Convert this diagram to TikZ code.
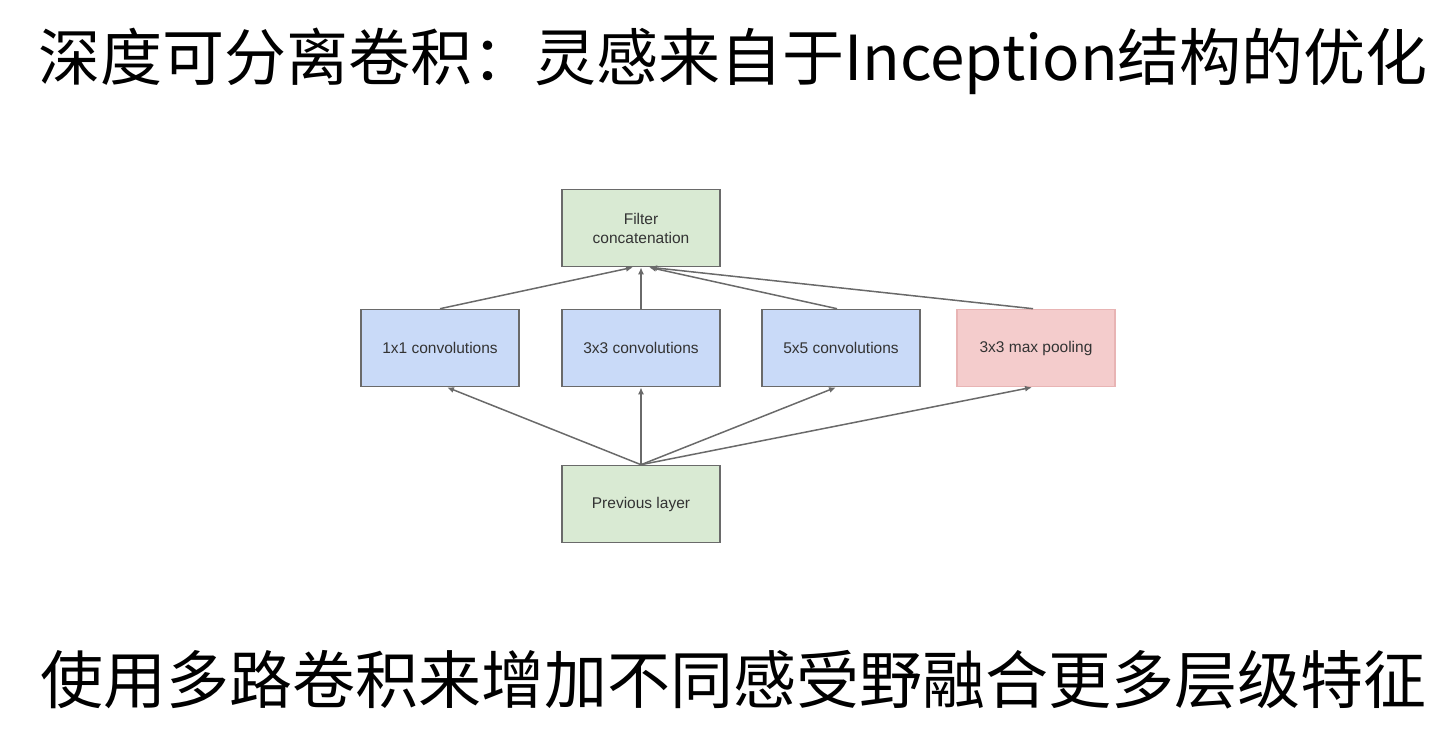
\documentclass[tikz,border=0pt]{standalone}
\usepackage{fontspec}
\setmainfont{Liberation Sans}
\newfontfamily\cjk{Noto Sans CJK SC}
\usetikzlibrary{arrows.meta}

\definecolor{boxgreen}{HTML}{D9EAD3}
\definecolor{boxblue}{HTML}{C9DAF8}
\definecolor{boxpink}{HTML}{F4CCCC}
\definecolor{pinkline}{HTML}{E8B4B4}
\definecolor{lineg}{HTML}{6A6A6A}
\definecolor{txtg}{HTML}{333333}

\begin{document}
\begin{tikzpicture}[x=1pt,y=-1pt,
  layer/.style={draw=lineg, line width=1.6pt, minimum width=158pt, minimum height=77pt,
    inner sep=0pt, align=center, text=txtg, font=\fontsize{15.5}{19}\selectfont},
  flow/.style={draw=lineg, line width=1.5pt, -{Latex[length=7pt,width=6pt]}}]
 \useasboundingbox (0,0) rectangle (1456,738);

 \node (title) at (733,61) {\cjk\fontsize{62}{70}\selectfont 深度可分离卷积：灵感来自于Inception结构的优化};
 \node (sub) at (733,680) {\cjk\fontsize{63}{70}\selectfont 使用多路卷积来增加不同感受野融合更多层级特征};

 \begin{scope}[every node/.style={layer}]
   \node (concat) [fill=boxgreen] at (641,228) {Filter\\concatenation};
   \node (c1) [fill=boxblue] at (440,348) {1x1 convolutions};
   \node (c3) [fill=boxblue] at (641,348) {3x3 convolutions};
   \node (c5) [fill=boxblue] at (841,348) {5x5 convolutions};
   \node (pool) [fill=boxpink,draw=pinkline] at (1036,348) {3x3 max pooling};
   \node (prev) [fill=boxgreen] at (641,504) {Previous layer};
 \end{scope}

 % previous layer to the four branches
 \draw[flow] (prev.north) -- ([xshift=7pt]c1.south);
 \draw[flow] (prev.north) -- (c3.south);
 \draw[flow] (prev.north) -- ([xshift=-5pt]c5.south);
 \draw[flow] (prev.north) -- ([xshift=-4pt]pool.south);
 % branches to the concatenation
 \draw[flow] (c1.north) -- ([xshift=-8pt]concat.south);
 \draw[flow] (c3.north) -- (concat.south);
 \draw[flow] ([xshift=-4pt]c5.north) -- ([xshift=8pt]concat.south);
 \draw[flow] ([xshift=-3pt]pool.north) -- ([xshift=9pt]concat.south);
\end{tikzpicture}
\end{document}
